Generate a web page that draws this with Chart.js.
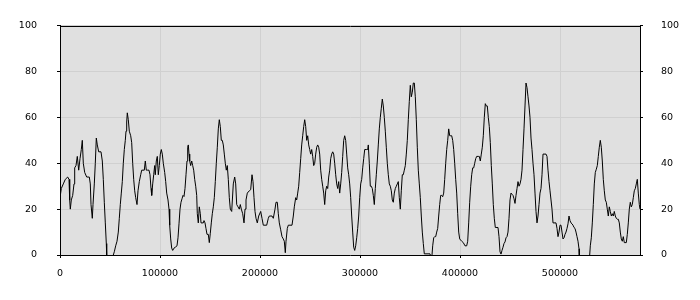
<!DOCTYPE html>
<html><head><meta charset="utf-8">
<script src="https://cdn.jsdelivr.net/npm/chart.js@4"></script>
<style>html,body{margin:0;padding:0;background:#fff}#wrap{width:700px;height:300px;position:relative}</style>
</head><body><div id="wrap"><canvas id="c"></canvas></div>
<script>
const xPositions=[0,1300,3300,5300,7700,9000,9700,10300,11300,12700,14000,14700,16000,17300,18700,20000,21300,22300,23300,24700,26700,29300,30300,31000,32300,33000,34300,35300,36300,37300,38700,41000,42300,43300,44300,45300,46300,46700,48000,50000,52500,53300,54300,55700,57000,58300,59300,60300,61300,62300,63300,64300,65300,66000,66700,67300,68300,69300,70700,71700,72700,73700,74700,75700,77000,78000,79300,80700,81700,84300,85300,86300,87700,89000,90000,91000,91700,92700,93700,94700,95300,96300,97300,98300,99300,100300,101300,102300,103300,104700,105700,106700,108000,109000,109700,110700,111700,112700,114000,115300,117000,118000,119000,120000,121000,122000,123000,124000,125000,126000,127000,127700,128300,129000,129700,130700,131700,132700,133700,134700,135700,136700,137300,138300,139300,140300,141000,143300,144000,145000,146000,147000,148300,149300,150300,151300,152300,153300,154300,155300,156300,157300,158300,159300,160300,161300,162300,163300,164300,165300,166300,167300,168300,169300,170300,171700,173300,174700,175700,176700,178000,179300,180300,181300,182700,184000,185000,186000,187300,189300,190700,192000,193000,194000,195000,196000,197300,198700,200700,202000,203300,206700,208300,209300,212000,213300,215000,216000,217300,218300,219300,220700,222000,223300,224300,225300,226000,227300,228300,232000,233300,234300,235700,236700,237700,238700,239700,240700,241700,242700,243700,244700,245700,246700,247700,248700,249700,250700,251700,252700,253700,254700,255700,256700,257700,258700,259700,260700,261700,262700,263700,264700,265700,266700,267700,268700,269700,270700,271700,272700,273700,274700,275700,276700,277700,278700,279700,280700,281700,282700,283700,284700,285700,286700,287700,288700,289700,290700,291700,292700,293700,294700,295700,296700,297700,298700,299700,300700,301700,302700,303700,304700,306700,307700,308300,309300,310300,311300,312300,313300,314300,315300,316300,317300,318300,319300,320300,321300,322300,323300,324300,325300,326300,327300,328300,329300,330300,331300,332300,333300,334300,335300,336300,337300,338300,339300,340300,341300,342300,343300,344300,345300,346300,347300,348300,349300,350300,351300,352300,353300,354300,355300,356300,357300,358300,359300,360300,361300,362300,363300,364300,370000,371000,372000,372700,373700,374700,375700,376700,377700,378700,379700,380700,381700,382700,383700,384700,385700,386700,387700,388700,389700,390700,391700,392700,393700,394700,395700,396700,397700,398700,399700,401700,403300,405000,406700,407700,408700,409700,410700,411700,412700,413700,414700,415700,416700,418300,419300,420300,421300,422300,423300,424300,425300,426300,427300,428300,429300,430300,431300,432300,433300,434300,435300,438000,439000,440000,441000,442000,443000,444000,445000,446000,447000,448000,449000,450000,451000,452000,453000,454000,455000,456000,457000,458000,459000,460000,461000,462000,463000,464000,465000,466000,467000,468000,469000,470000,471000,472000,473000,474000,475000,476000,477000,478000,479000,480000,481000,482000,483000,484000,485000,486000,487000,488000,489000,490000,491000,492000,493000,496000,497000,498000,499000,500000,501000,502000,503000,504000,505000,506000,507000,508000,509000,510000,511000,512000,513000,514000,515000,516000,517000,518000,519000,519300,521000,525000,528500,529700,530300,531300,532300,533300,534300,535300,536300,537300,538300,539300,540300,541300,542300,543300,544300,545300,546300,547300,548300,549300,550300,551300,552300,553300,554300,555300,556300,557300,558300,559300,560300,561300,562300,563300,564300,566300,567300,568300,569300,570300,571300,572300,573300,574300,575300,576300,577300,578300,579300,580000];
const values=[25,29,31,33,34,33,24,20,24,26,31,38,39,43,37,42,46,50,40,36,34,34,31,22,16,22,31,40,51,48,45,45,41,33,23,14,5,0,-4,-6,-4,0,1.4,4,6,10,16,22,27,32,40,46,50,54,58,62,59,54,52,49,40,33,28,25,22,28,32,35,37,37,41,37,37,37,35,29,26,31,35,39,35,41,43,35,39,44,46,44,40,36,32,27,24,20,13,7,3,2,3,3.4,4,7.5,13.6,20,23,24.5,26,25.5,29,35,41,47,48,44,41,39,41,39,37,33,30,26,18,14,21,18,14,14,15,14,11.5,9,9,5.4,9.5,14,18,21,25,32,40,47,55,59,56,50,50,48,44,40,37,39,33,25,20,19,31,34,31,22,21,20,22,20,18,14,20,24,27,28,28.5,35,32,25,19,16,14,17,19,16,13,13,16,17,17,16,20,23,23,18,14,11,8,7,6,1,6,11.6,13,13,17,21,25,24,27,30,36,42,48,52,56,59,56,50,52,48,46,44,46,43,39,40,44,47,48,47,44,37,33,30,27,22,28,30,29,34,37,42,44,45,44,40,35,31,29,32,27,31,36,43,50,52,50,44,38,35,31,25,17,10,3.4,2,4,7.5,11.6,17,25,31,33,38,42,46,46,46,48,40,30,30,29,26,22,29,35,41,48,55,60,64,68,65,60,54,47,40,35,31,30,28,24,23,27,29,30,31,32,25,20,28,35,35,37,39,44,50,59,67,74,69,71,75,75,69,59,47,37,31,25,17,10,5,0.5,0.5,-1,0,4,7.5,8,8,10,11.6,17,22,26,26,25.4,27,33,40,46,50,55,52,52,52,50,46,40,33,27,18,10,7,6,5.4,4,4,6,14,23,30,35,38,38,40,42,43,43,43,41,44,47,52,60,66,65,65,60,56,49,39,31,22,16,12,12,8,1.4,0.4,2,3.4,5,5.7,7.5,8,10,16,24,27,26.5,26,24.5,22.5,26,29,32,30,31,33,37,46,55,65,75,73,69,65,60,51,46,40,35,27,19,14,17,22,27,29,35,44,44,44,44,43,37,32,28,24,20,14,14,11.6,8,10,13,13,10,7,7.5,9,10,11.6,13.6,17,15,14,13.6,13,12,11.6,10,8,6,2.7,0,-5,-7,-5,0,4,7.5,14,22,31,36,37.4,39,43,47,50,47,41,33,28,24,23,20,17,21,19,17,18,17,19,17,16,15.6,15.6,14,10,7,6,8,5.4,5.4,9,14,20,23,21,22,25,28,29,31,33,27,22,20];
const xTicks=[0,100000,200000,300000,400000,500000];
const yTicks=[0,20,40,60,80,100];

const font={family:'"DejaVu Sans", Verdana, sans-serif',size:9.5};
const frame={
  id:'frame',
  beforeDraw(chart){
    const a=chart.chartArea, ctx=chart.ctx;
    ctx.save();ctx.fillStyle='#e0e0e0';
    ctx.fillRect(a.left,a.top,a.right-a.left,a.bottom-a.top);ctx.restore();
  },
  afterDraw(chart){
    const a=chart.chartArea, ctx=chart.ctx;
    ctx.save();ctx.strokeStyle='#000';ctx.lineWidth=1;
    ctx.beginPath();ctx.moveTo(a.left,Math.round(a.top)+0.5);ctx.lineTo(a.right+1,Math.round(a.top)+0.5);ctx.stroke();
    ctx.restore();
  }
};
function yAxis(pos,pad,grid){
  return {
    type:'linear',position:pos,min:0,max:100,
    afterBuildTicks:s=>{s.ticks=yTicks.map(v=>({value:v}));},
    afterFit:s=>{s.width=60;},
    ticks:{font,color:'#000',padding:pad,callback:v=>String(v)},
    grid:{color:'#d0d0d0',tickColor:'#000',tickLength:3,drawOnChartArea:grid},
    border:{color:'#000',width:1}
  };
}
new Chart(document.getElementById('c'),{
  type:'line',
  data:{datasets:[{
    data:xPositions.map((x,i)=>({x,y:values[i]})),
    borderColor:'#000',borderWidth:1,pointRadius:0,tension:0,fill:false
  }]},
  options:{
    responsive:true,maintainAspectRatio:false,animation:false,
    layout:{padding:{top:10,left:0,right:0,bottom:0}},
    plugins:{legend:{display:false},tooltip:{enabled:false}},
    scales:{
      x:{
        type:'linear',position:'bottom',min:0,max:580000,
        afterBuildTicks:s=>{s.ticks=xTicks.map(v=>({value:v}));},
        afterFit:s=>{s.height=45;},
        ticks:{font,color:'#000',padding:10,maxRotation:0,autoSkip:false,callback:v=>String(v)},
        grid:{color:'#d0d0d0',tickColor:'#000',tickLength:3},
        border:{color:'#000',width:1}
      },
      y:yAxis('left',20,true),
      y2:yAxis('right',18,false)
    }
  },
  plugins:[frame]
});
</script>
</body></html>
